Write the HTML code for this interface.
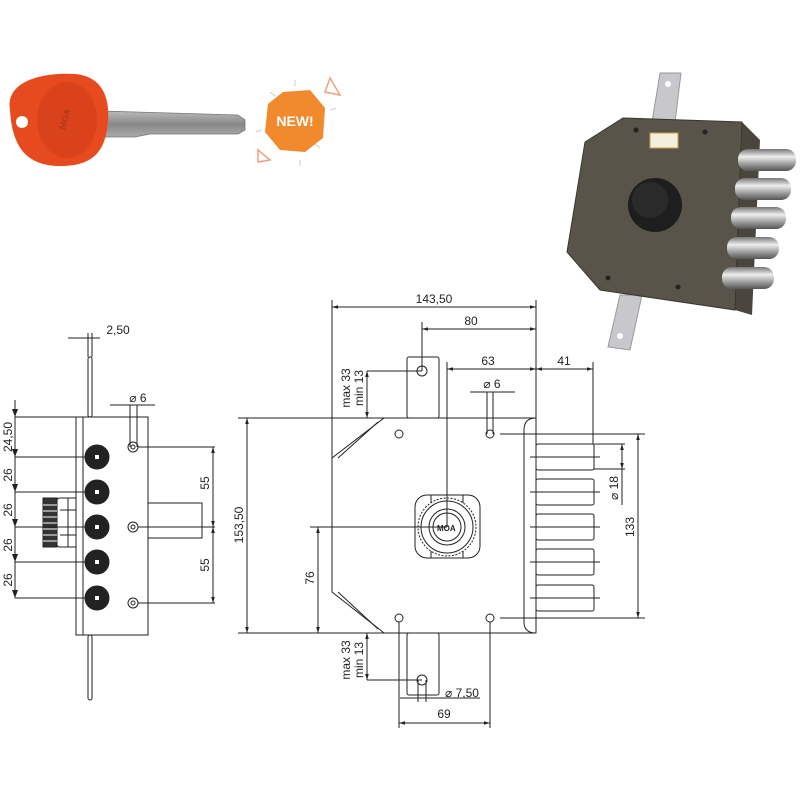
<!DOCTYPE html>
<html><head><meta charset="utf-8"><style>
html,body{margin:0;padding:0;background:#fff;width:800px;height:800px;overflow:hidden}
text{font-family:"Liberation Sans",sans-serif;font-size:12px;fill:#222}
</style></head><body>
<svg width="800" height="800" viewBox="0 0 800 800" xmlns="http://www.w3.org/2000/svg">
<defs>
<marker id="a" viewBox="0 0 10 10" refX="10" refY="5" markerWidth="6" markerHeight="6" orient="auto-start-reverse"><path d="M0,2 L10,5 L0,8 z" fill="#222"/></marker>
<linearGradient id="bolt" x1="0" y1="0" x2="0" y2="1"><stop offset="0" stop-color="#777"/><stop offset="0.35" stop-color="#eee"/><stop offset="0.7" stop-color="#999"/><stop offset="1" stop-color="#555"/></linearGradient>
<linearGradient id="blade" x1="0" y1="0" x2="0" y2="1"><stop offset="0" stop-color="#bbb"/><stop offset="0.5" stop-color="#888"/><stop offset="1" stop-color="#aaa"/></linearGradient>
</defs>

<!-- Key -->
<path d="M100,111 L238,115 L245,120 L245,130 L238,134 L150,134 L135,137 L100,137 z" fill="url(#blade)" stroke="#777" stroke-width="0.8"/>
<path d="M10,110 C5,80 45,72 75,74 C100,76 110,95 108,120 C106,150 95,166 60,166 C25,166 12,145 10,110 z" fill="#e64a1e"/>
<ellipse cx="67" cy="120" rx="30" ry="38" fill="#d9421a"/>
<circle cx="22" cy="122" r="6" fill="#fff"/>
<text x="0" y="0" transform="translate(68,120) rotate(-75)" style="font-size:9px;fill:#b5381a;font-weight:bold" text-anchor="middle">MOA</text>

<!-- NEW badge -->
<g stroke="#ccc" stroke-width="1">
<line x1="295" y1="80" x2="295" y2="86"/><line x1="270" y1="92" x2="275" y2="96"/><line x1="320" y1="148" x2="315" y2="144"/><line x1="262" y1="130" x2="256" y2="132"/><line x1="330" y1="110" x2="336" y2="108"/><line x1="300" y1="160" x2="300" y2="166"/>
</g>
<polygon points="283,92 310,90 325,108 323,138 305,152 280,150 265,132 268,104" fill="#f08a2c"/>
<text x="295" y="126" text-anchor="middle" style="font-size:14px;font-weight:bold;fill:#fff">NEW!</text>
<polygon points="330,78 340,95 325,92" fill="none" stroke="#f0a080" stroke-width="1.5"/>
<polygon points="258,150 270,160 258,162" fill="none" stroke="#f0a080" stroke-width="1.5"/>

<!-- Lock photo -->
<polygon points="660,73 681,73 675,122 652,122" fill="#c8c8cc" stroke="#999"/>
<circle cx="668" cy="84" r="3" fill="#fff"/>
<polygon points="620,295 642,295 630,350 608,347" fill="#c8c8cc" stroke="#999"/>
<circle cx="620" cy="336" r="3" fill="#fff"/>
<polygon points="742,122 760,140 752,315 735,310" fill="#4a463e"/>
<polygon points="623,118 742,122 735,310 600,290 567,252 585,142" fill="#58544a" stroke="#3a372f"/>
<circle cx="636" cy="130" r="2.5" fill="#222"/><circle cx="705" cy="132" r="2.5" fill="#222"/>
<circle cx="608" cy="278" r="2.5" fill="#222"/><circle cx="678" cy="287" r="2.5" fill="#222"/>
<rect x="650" y="133" width="28" height="15" fill="#f4eedc" stroke="#c8a040"/>
<circle cx="655" cy="205" r="27" fill="#1e1e1e"/><circle cx="650" cy="200" r="18" fill="#2a2a2a"/>
<g>
<rect x="738" y="149" width="58" height="22" rx="10" fill="url(#bolt)"/>
<rect x="735" y="178" width="56" height="22" rx="10" fill="url(#bolt)"/>
<rect x="731" y="207" width="55" height="22" rx="10" fill="url(#bolt)"/>
<rect x="727" y="237" width="52" height="22" rx="10" fill="url(#bolt)"/>
<rect x="722" y="267" width="52" height="22" rx="10" fill="url(#bolt)"/>
</g>

<g stroke="#222" stroke-width="1" fill="none">
<!-- ===== Side view ===== -->
<rect x="76" y="417" width="72" height="218"/>
<line x1="83" y1="417" x2="83" y2="635"/>
<rect x="88" y="357" width="4" height="60" rx="2"/>
<rect x="88" y="635" width="4" height="65" rx="2"/>
<rect x="148" y="503" width="54" height="35"/>
<line x1="202" y1="538" x2="202" y2="503"/>
<path d="M76,498 L60,498 Q56,498 56,505 L56,540 Q56,547 60,547 L76,547"/>
<line x1="60" y1="510" x2="76" y2="510"/><line x1="60" y1="535" x2="76" y2="535"/><line x1="68" y1="498" x2="68" y2="547"/>
<rect x="43" y="498" width="14" height="49" fill="#333"/>
<g stroke="#fff" stroke-width="1"><line x1="43" y1="505" x2="57" y2="505"/><line x1="43" y1="511" x2="57" y2="511"/><line x1="43" y1="517" x2="57" y2="517"/><line x1="43" y1="523" x2="57" y2="523"/><line x1="43" y1="529" x2="57" y2="529"/><line x1="43" y1="535" x2="57" y2="535"/><line x1="43" y1="541" x2="57" y2="541"/></g>
<g fill="#222">
<circle cx="97" cy="457" r="12"/><circle cx="97" cy="492" r="12"/><circle cx="97" cy="527" r="12"/><circle cx="97" cy="562" r="12"/><circle cx="97" cy="598" r="12"/>
</g>
<g fill="#fff" stroke="none"><rect x="95" y="455" width="4" height="4"/><rect x="95" y="490" width="4" height="4"/><rect x="95" y="525" width="4" height="4"/><rect x="95" y="560" width="4" height="4"/><rect x="95" y="596" width="4" height="4"/></g>
<circle cx="133" cy="447" r="5"/><circle cx="133" cy="527" r="5"/><circle cx="133" cy="603" r="5"/>
<circle cx="133" cy="447" r="2"/><circle cx="133" cy="527" r="2"/><circle cx="133" cy="603" r="2"/>
<!-- side dims -->
<line x1="15" y1="400" x2="15" y2="598"/>
<line x1="15" y1="417" x2="80" y2="417"/><line x1="15" y1="457" x2="85" y2="457"/><line x1="15" y1="492" x2="85" y2="492"/><line x1="15" y1="527" x2="85" y2="527"/><line x1="15" y1="562" x2="85" y2="562"/><line x1="15" y1="598" x2="85" y2="598"/>
<line x1="68" y1="338" x2="100" y2="338"/><line x1="88" y1="333" x2="88" y2="357"/><line x1="92" y1="333" x2="92" y2="357"/>
<line x1="110" y1="405" x2="155" y2="405"/><line x1="130" y1="405" x2="130" y2="447"/><line x1="137" y1="405" x2="137" y2="447"/>
<line x1="138" y1="447" x2="215" y2="447"/><line x1="138" y1="527" x2="215" y2="527"/><line x1="138" y1="603" x2="215" y2="603"/>
<line x1="213" y1="447" x2="213" y2="603"/>

<!-- ===== Main view ===== -->
<path d="M384,418 L536,418 L536,633 L384,633 L332,592 L332,458 z"/>
<path d="M378,422 L338,458 M378,629 L338,592"/>
<path d="M536,418 Q524,418 524,430 L524,622 Q524,633 536,633"/>
<rect x="407" y="357" width="32" height="61" rx="2"/>
<rect x="407" y="633" width="32" height="62" rx="2"/>
<circle cx="422" cy="371" r="5"/><circle cx="422" cy="680" r="5"/>
<circle cx="399" cy="434" r="4"/><circle cx="490" cy="434" r="4"/><circle cx="399" cy="618" r="4"/><circle cx="490" cy="618" r="4"/>
<g>
<rect x="536" y="444" width="58" height="26" rx="2"/>
<rect x="536" y="479" width="58" height="26" rx="2"/>
<rect x="536" y="514" width="58" height="26" rx="2"/>
<rect x="536" y="549" width="58" height="26" rx="2"/>
<rect x="536" y="585" width="58" height="26" rx="2"/>
</g>
<line x1="530" y1="457" x2="600" y2="457"/><line x1="530" y1="492" x2="600" y2="492"/><line x1="530" y1="527" x2="600" y2="527"/><line x1="530" y1="562" x2="600" y2="562"/><line x1="530" y1="598" x2="600" y2="598"/>
<rect x="415" y="495" width="65" height="63" rx="12"/>
<circle cx="447" cy="527" r="29" stroke-dasharray="2 1.5"/>
<circle cx="447" cy="527" r="26"/>
<circle cx="447" cy="527" r="18"/><circle cx="447" cy="527" r="14"/>
<line x1="431" y1="495" x2="431" y2="503"/><line x1="463" y1="495" x2="463" y2="503"/><line x1="431" y1="551" x2="431" y2="558"/><line x1="463" y1="551" x2="463" y2="558"/>
<!-- main dims -->
<line x1="332" y1="300" x2="332" y2="458"/>
<line x1="536" y1="300" x2="536" y2="418"/>
<line x1="422" y1="322" x2="422" y2="371"/>
<line x1="447" y1="362" x2="447" y2="527"/>
<line x1="593" y1="362" x2="593" y2="444"/>
<line x1="238" y1="418" x2="384" y2="418"/><line x1="238" y1="633" x2="384" y2="633"/>
<line x1="310" y1="527" x2="447" y2="527"/>
<line x1="367" y1="371" x2="422" y2="371"/>
<line x1="367" y1="680" x2="422" y2="680"/>
<line x1="500" y1="434" x2="645" y2="434"/><line x1="500" y1="618" x2="645" y2="618"/>
<line x1="594" y1="444" x2="625" y2="444"/><line x1="594" y1="469" x2="625" y2="469"/>
<line x1="622" y1="444" x2="622" y2="505"/>
<line x1="470" y1="392" x2="515" y2="392"/><line x1="487" y1="392" x2="487" y2="434"/><line x1="493" y1="392" x2="493" y2="434"/>
<line x1="399" y1="622" x2="399" y2="728"/><line x1="490" y1="622" x2="490" y2="728"/>
<line x1="400" y1="698" x2="480" y2="698"/><line x1="418" y1="680" x2="418" y2="702"/><line x1="426" y1="680" x2="426" y2="702"/>
</g>
<g stroke="#222" stroke-width="1" fill="none">
<line x1="332" y1="307" x2="536" y2="307" marker-start="url(#a)" marker-end="url(#a)"/>
<line x1="422" y1="329" x2="536" y2="329" marker-start="url(#a)" marker-end="url(#a)"/>
<line x1="447" y1="369" x2="536" y2="369" marker-start="url(#a)" marker-end="url(#a)"/>
<line x1="536" y1="369" x2="593" y2="369" marker-start="url(#a)" marker-end="url(#a)"/>
<line x1="247" y1="418" x2="247" y2="633" marker-start="url(#a)" marker-end="url(#a)"/>
<line x1="318" y1="527" x2="318" y2="633" marker-start="url(#a)" marker-end="url(#a)"/>
<line x1="367" y1="371" x2="367" y2="418" marker-start="url(#a)" marker-end="url(#a)"/>
<line x1="367" y1="633" x2="367" y2="680" marker-start="url(#a)" marker-end="url(#a)"/>
<line x1="638" y1="434" x2="638" y2="618" marker-start="url(#a)" marker-end="url(#a)"/>
<line x1="399" y1="723" x2="490" y2="723" marker-start="url(#a)" marker-end="url(#a)"/>
<line x1="622" y1="444" x2="622" y2="469" marker-start="url(#a)" marker-end="url(#a)"/>
<line x1="213" y1="447" x2="213" y2="527" marker-start="url(#a)" marker-end="url(#a)"/>
<line x1="213" y1="527" x2="213" y2="603" marker-start="url(#a)" marker-end="url(#a)"/>
</g>
<g fill="#222">
<polygon points="15,417 12,409 18,409"/><polygon points="15,457 12,449 18,449"/><polygon points="15,492 12,484 18,484"/><polygon points="15,527 12,519 18,519"/><polygon points="15,562 12,554 18,554"/><polygon points="15,598 12,590 18,590"/>
</g>

<!-- texts -->
<text x="118" y="334" text-anchor="middle">2,50</text>
<text x="138" y="402" text-anchor="middle">⌀ 6</text>
<g text-anchor="middle">
<text transform="translate(12,437) rotate(-90)">24,50</text>
<text transform="translate(12,475) rotate(-90)">26</text>
<text transform="translate(12,510) rotate(-90)">26</text>
<text transform="translate(12,545) rotate(-90)">26</text>
<text transform="translate(12,580) rotate(-90)">26</text>
<text transform="translate(209,483) rotate(-90)">55</text>
<text transform="translate(209,565) rotate(-90)">55</text>
<text transform="translate(243,525) rotate(-90)">153,50</text>
<text transform="translate(314,578) rotate(-90)">76</text>
<text transform="translate(350,388) rotate(-90)">max 33</text>
<text transform="translate(363,388) rotate(-90)">min 13</text>
<text transform="translate(350,660) rotate(-90)">max 33</text>
<text transform="translate(363,660) rotate(-90)">min 13</text>
<text transform="translate(634,527) rotate(-90)">133</text>
<text transform="translate(618,488) rotate(-90)">⌀ 18</text>
<text x="434" y="303">143,50</text>
<text x="471" y="325">80</text>
<text x="488" y="365">63</text>
<text x="564" y="365">41</text>
<text x="492" y="388">⌀ 6</text>
<text x="462" y="697">⌀ 7,50</text>
<text x="444" y="718">69</text>
</g>
<text x="437" y="531" style="font-size:8px;font-weight:bold">MOA</text>
</svg>
</body></html>
